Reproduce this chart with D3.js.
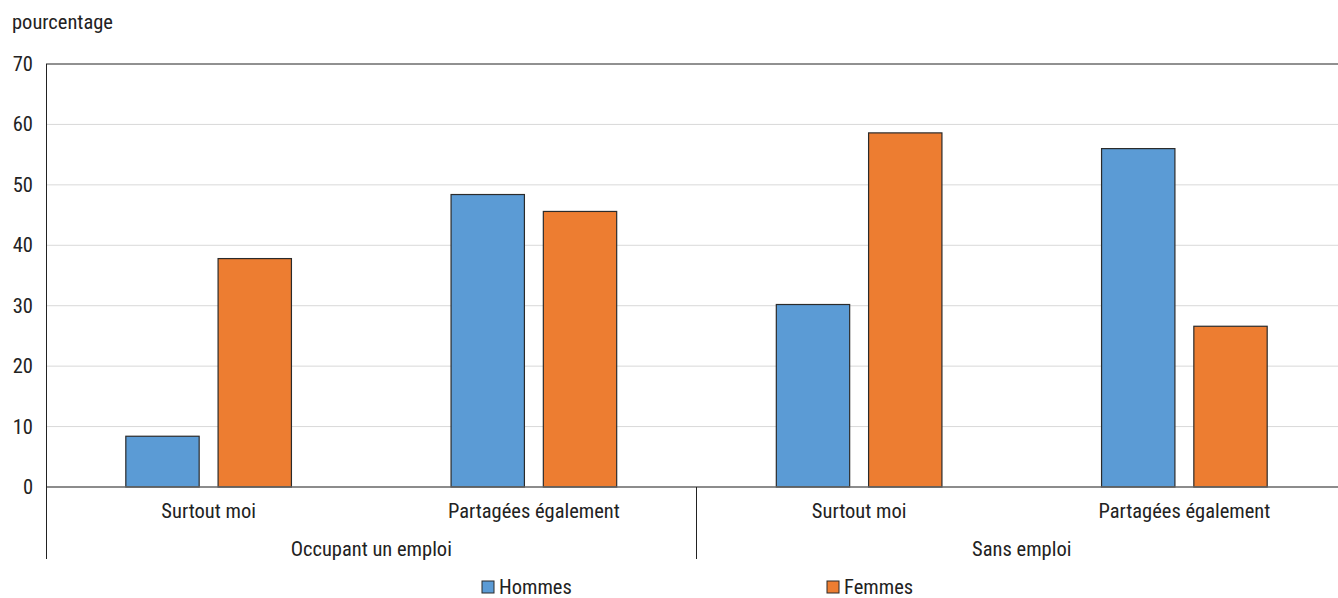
<!DOCTYPE html>
<html>
<head>
<meta charset="utf-8">
<script src="https://cdn.jsdelivr.net/npm/d3@7"></script>
<style>
  body { margin: 0; background: #fff; }
  svg text { font-family: "Liberation Sans Narrow", "Arial Narrow", "Roboto Condensed", Roboto, sans-serif; fill: #222; }
</style>
</head>
<body>
<svg id="chart" width="1338" height="598"></svg>
<script>
// data
var groups = ["Occupant un emploi", "Sans emploi"];
var answers = ["Surtout moi", "Partagées également"];
var series = ["Hommes", "Femmes"];
var hommes = [8.4, 48.4, 30.2, 56.0];
var femmes = [37.8, 45.6, 58.6, 26.6];
var yTicks = [0, 10, 20, 30, 40, 50, 60, 70];
var colors = ["#5b9bd5", "#ed7d31"];

var svg = d3.select("#chart");
var plotL = 46, plotR = 1347, plotT = 64, plotB = 487;
var fs = "20.5px";

// flat category list: one entry per (group, answer)
var cats = [];
groups.forEach(function(g){
	answers.forEach(function(a){
		cats.push(g + "|" + a);
	});
});

var x = d3.scaleBand().domain(cats).range([plotL, plotR]);
var xs = d3.scaleBand().domain(series).range([0, x.bandwidth()]).paddingInner(0.205).paddingOuter(0.865);
var y = d3.scaleLinear().domain([0, 70]).range([plotB, plotT]);

// gridlines
svg.append("g")
	.selectAll("line")
	.data(yTicks.filter(function(t){ return t > 0 && t < 70; }))
	.enter()
	.append("line")
	.attr("x1", plotL).attr("x2", plotR)
	.attr("y1", function(d){ return y(d); })
	.attr("y2", function(d){ return y(d); })
	.attr("stroke", "#d9d9d9")
	.attr("stroke-width", 1);

// top border
svg.append("line")
	.attr("x1", plotL).attr("x2", plotR)
	.attr("y1", y(70)).attr("y2", y(70))
	.attr("stroke", "#222").attr("stroke-width", 1);

// y axis labels
var yAxis = d3.axisLeft(y).tickValues(yTicks).tickSize(0).tickPadding(13);
var ya = svg.append("g").attr("transform", "translate(" + plotL + ",0)").call(yAxis);
ya.select(".domain").remove();
ya.selectAll("text")
	.style("font-size", fs)
	.style("font-family", "'Liberation Sans Narrow', 'Roboto Condensed', Roboto, sans-serif")
	.attr("fill", "#222");

// bars
var barData = [];
cats.forEach(function(c, i){
	barData.push({cat: c, s: "Hommes", v: hommes[i], col: colors[0]});
	barData.push({cat: c, s: "Femmes", v: femmes[i], col: colors[1]});
});
svg.append("g")
	.selectAll("rect")
	.data(barData)
	.enter()
	.append("rect")
	.attr("x", function(d){ return x(d.cat) + xs(d.s); })
	.attr("width", xs.bandwidth())
	.attr("y", function(d){ return y(d.v); })
	.attr("height", function(d){ return y(0) - y(d.v); })
	.attr("fill", function(d){ return d.col; })
	.attr("stroke", "#2b2b2b")
	.attr("stroke-width", 1.2);

// zero axis
svg.append("line")
	.attr("x1", plotL).attr("x2", plotR)
	.attr("y1", y(0)).attr("y2", y(0))
	.attr("stroke", "#666").attr("stroke-width", 1.5);

// left axis line
svg.append("line")
	.attr("x1", plotL + 0.5).attr("x2", plotL + 0.5)
	.attr("y1", plotT).attr("y2", 559)
	.attr("stroke", "#222").attr("stroke-width", 1);

// group separators
groups.forEach(function(g, gi){
	if (gi === 0) return;
	var gx = x(g + "|" + answers[0]);
	svg.append("line")
		.attr("x1", gx).attr("x2", gx)
		.attr("y1", plotB).attr("y2", 559)
		.attr("stroke", "#222").attr("stroke-width", 1);
});

// category labels
svg.append("g")
	.selectAll("text")
	.data(cats)
	.enter()
	.append("text")
	.attr("x", function(d){ return x(d) + x.bandwidth() / 2; })
	.attr("y", 518)
	.attr("text-anchor", "middle")
	.style("font-size", fs)
	.text(function(d){ return d.split("|")[1]; });

// group labels
svg.append("g")
	.selectAll("text")
	.data(groups)
	.enter()
	.append("text")
	.attr("x", function(d){ return x(d + "|" + answers[0]) + x.bandwidth(); })
	.attr("y", 556)
	.attr("text-anchor", "middle")
	.style("font-size", fs)
	.text(function(d){ return d; });

// unit label
svg.append("text")
	.attr("x", 12).attr("y", 29)
	.style("font-size", fs)
	.text("pourcentage");

// legend
var legendX = [482, 827];
var legend = svg.append("g")
	.selectAll("g")
	.data(series)
	.enter()
	.append("g")
	.attr("transform", function(d, i){ return "translate(" + legendX[i] + ",581)"; });
legend.append("rect")
	.attr("width", 12).attr("height", 12)
	.attr("fill", function(d, i){ return colors[i]; })
	.attr("stroke", "#2b2b2b").attr("stroke-width", 1);
legend.append("text")
	.attr("x", 17).attr("y", 13)
	.style("font-size", fs)
	.text(function(d){ return d; });
</script>
</body>
</html>
